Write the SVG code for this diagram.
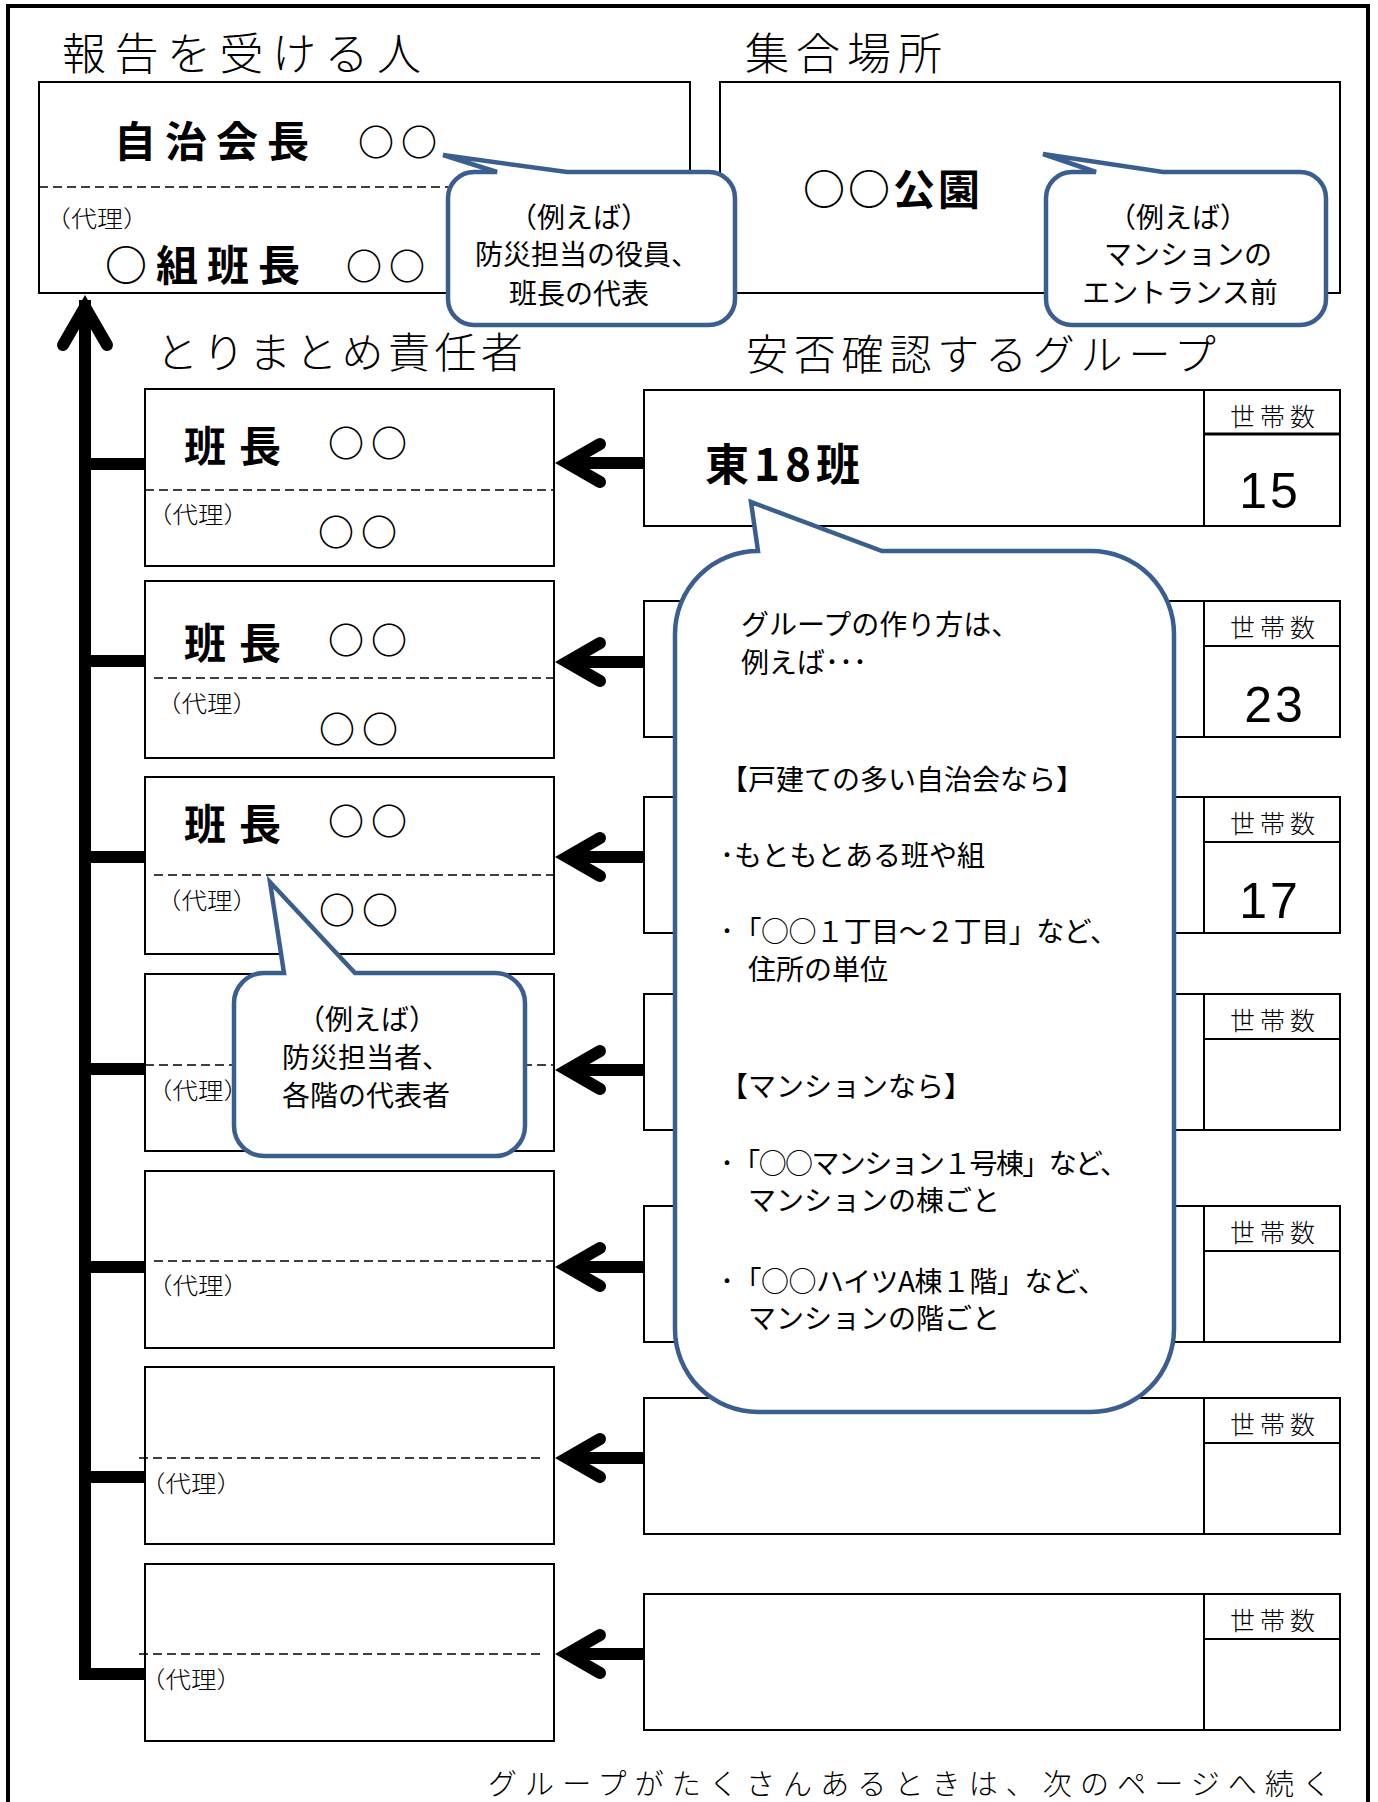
<svg xmlns="http://www.w3.org/2000/svg" xmlns:xlink="http://www.w3.org/1999/xlink" width="1378" height="1802" viewBox="0 0 1378 1802">
<style>
.box{fill:#fff;stroke:#000;stroke-width:2}
.dash{stroke:#000;stroke-width:1.6;stroke-dasharray:9 5;fill:none}
.ttl{font-family:"Noto Sans CJK JP","Noto Sans",sans-serif;font-weight:300;font-size:44px;fill:#000}
.bold{font-family:"Noto Sans CJK JP","Noto Sans",sans-serif;font-weight:700;fill:#000}
.circ{font-family:"Noto Sans CJK JP","Noto Sans",sans-serif;font-weight:700;font-size:36px;letter-spacing:7px;fill:#000}
.small{font-family:"Noto Sans CJK JP","Noto Sans",sans-serif;font-weight:300;font-size:23px;fill:#000}
.hh{font-family:"Noto Sans CJK JP","Noto Sans",sans-serif;font-weight:300;font-size:25px;letter-spacing:5px;fill:#000}
.num{font-family:"Liberation Sans","DejaVu Sans",sans-serif;font-size:50px;fill:#000}
.bub{fill:#fff;stroke:#3A5F8E;stroke-width:4.5;stroke-linejoin:miter}
.bt{font-family:"Noto Sans CJK JP","Noto Sans",sans-serif;font-weight:400;font-size:28px;fill:#000}
.conn{stroke:#000;stroke-width:12;fill:none}
.head{stroke:#000;stroke-width:12;fill:none;stroke-linecap:round;stroke-linejoin:miter}
</style>
<defs>
<g id="larrow">
<line class="conn" x1="566" y1="0" x2="644" y2="0"/>
<polyline class="head" points="600,-19 567,0 600,19"/>
</g>
</defs>

<rect x="8" y="6" width="1360" height="1812" fill="none" stroke="#000" stroke-width="4"/>

<!-- titles -->
<text class="ttl" x="62" y="70" style="letter-spacing:8.5px">報告を受ける人</text>
<text class="ttl" x="745" y="70" style="letter-spacing:7px">集合場所</text>
<text class="ttl" x="156" y="368" style="font-size:42px;letter-spacing:4.4px">とりまとめ責任者</text>
<text class="ttl" x="746" y="370" style="font-size:42px;letter-spacing:5.8px">安否確認するグループ</text>

<!-- report receiver -->
<g id="reporter">
<rect class="box" x="39" y="82" width="651" height="211"/>
<line class="dash" x1="39" y1="187" x2="690" y2="187"/>
<text class="bold" x="114" y="157" style="font-size:42px;letter-spacing:9px">自治会長</text>
<text class="circ" x="358" y="156">○○</text>
<text class="small" x="45" y="227" textLength="104" lengthAdjust="spacingAndGlyphs">（代理）</text>
<text class="bold" x="105" y="281" style="font-size:42px;letter-spacing:9px">○組班長</text>
<text class="circ" x="346" y="280">○○</text>
</g>

<!-- gathering place -->
<g id="place">
<rect class="box" x="720" y="82" width="620" height="211"/>
<text class="bold" x="803" y="205" style="font-size:42px;letter-spacing:3px">○○公園</text>
</g>

<!-- leader boxes -->
<g id="leader1">
<rect class="box" x="145" y="389" width="409" height="177"/>
<line class="dash" x1="145" y1="490" x2="554" y2="490"/>
<text class="bold" x="184" y="462" style="font-size:42px;letter-spacing:13px">班長</text>
<text class="circ" x="328" y="457">○○</text>
<text class="small" x="147" y="523" textLength="102" lengthAdjust="spacingAndGlyphs">（代理）</text>
<text class="circ" x="318" y="546">○○</text>
</g>
<g id="leader2">
<rect class="box" x="145" y="581" width="409" height="177"/>
<line class="dash" x1="154" y1="678" x2="560" y2="678"/>
<text class="bold" x="184" y="659" style="font-size:42px;letter-spacing:13px">班長</text>
<text class="circ" x="328" y="654">○○</text>
<text class="small" x="156" y="712" textLength="102" lengthAdjust="spacingAndGlyphs">（代理）</text>
<text class="circ" x="319" y="743">○○</text>
</g>
<g id="leader3">
<rect class="box" x="145" y="777" width="409" height="177"/>
<line class="dash" x1="154" y1="875" x2="560" y2="875"/>
<text class="bold" x="184" y="840" style="font-size:42px;letter-spacing:13px">班長</text>
<text class="circ" x="328" y="835">○○</text>
<text class="small" x="156" y="909" textLength="102" lengthAdjust="spacingAndGlyphs">（代理）</text>
<text class="circ" x="319" y="924">○○</text>
</g>
<g id="leader4">
<rect class="box" x="145" y="974" width="409" height="177"/>
<line class="dash" x1="145" y1="1065" x2="554" y2="1065"/>
<text class="small" x="147" y="1099" textLength="102" lengthAdjust="spacingAndGlyphs">（代理）</text>
</g>
<g id="leader5">
<rect class="box" x="145" y="1171" width="409" height="177"/>
<line class="dash" x1="154" y1="1261" x2="554" y2="1261"/>
<text class="small" x="147" y="1294" textLength="102" lengthAdjust="spacingAndGlyphs">（代理）</text>
</g>
<g id="leader6">
<rect class="box" x="145" y="1367" width="409" height="177"/>
<line class="dash" x1="139" y1="1458" x2="545" y2="1458"/>
<text class="small" x="140" y="1492" textLength="102" lengthAdjust="spacingAndGlyphs">（代理）</text>
</g>
<g id="leader7">
<rect class="box" x="145" y="1564" width="409" height="177"/>
<line class="dash" x1="139" y1="1654" x2="545" y2="1654"/>
<text class="small" x="140" y="1688" textLength="102" lengthAdjust="spacingAndGlyphs">（代理）</text>
</g>

<!-- group boxes -->
<g id="group1">
<rect class="box" x="644" y="390" width="696" height="136"/>
<line stroke="#000" stroke-width="2" x1="1204" y1="390" x2="1204" y2="526"/>
<line stroke="#000" stroke-width="3" x1="1204" y1="434" x2="1340" y2="434"/>
<text class="hh" x="1230" y="426">世帯数</text>
<text class="bold" x="705" y="481" style="font-size:44px;letter-spacing:5px">東18班</text>
<text class="num" x="1270" y="508" text-anchor="middle" style="letter-spacing:3px">15</text>
</g>
<g id="group2">
<rect class="box" x="644" y="601" width="696" height="136"/>
<line stroke="#000" stroke-width="2" x1="1204" y1="601" x2="1204" y2="737"/>
<line stroke="#000" stroke-width="2" x1="1204" y1="646" x2="1340" y2="646"/>
<text class="hh" x="1230" y="637">世帯数</text>
<text class="num" x="1275" y="722" text-anchor="middle" style="letter-spacing:3px">23</text>
</g>
<g id="group3">
<rect class="box" x="644" y="797" width="696" height="136"/>
<line stroke="#000" stroke-width="2" x1="1204" y1="797" x2="1204" y2="933"/>
<line stroke="#000" stroke-width="2" x1="1204" y1="842" x2="1340" y2="842"/>
<text class="hh" x="1230" y="833">世帯数</text>
<text class="num" x="1270" y="918" text-anchor="middle" style="letter-spacing:3px">17</text>
</g>
<g id="group4">
<rect class="box" x="644" y="994" width="696" height="136"/>
<line stroke="#000" stroke-width="2" x1="1204" y1="994" x2="1204" y2="1130"/>
<line stroke="#000" stroke-width="2" x1="1204" y1="1039" x2="1340" y2="1039"/>
<text class="hh" x="1230" y="1030">世帯数</text>
</g>
<g id="group5">
<rect class="box" x="644" y="1206" width="696" height="136"/>
<line stroke="#000" stroke-width="2" x1="1204" y1="1206" x2="1204" y2="1342"/>
<line stroke="#000" stroke-width="2" x1="1204" y1="1251" x2="1340" y2="1251"/>
<text class="hh" x="1230" y="1242">世帯数</text>
</g>
<g id="group6">
<rect class="box" x="644" y="1398" width="696" height="136"/>
<line stroke="#000" stroke-width="2" x1="1204" y1="1398" x2="1204" y2="1534"/>
<line stroke="#000" stroke-width="2" x1="1204" y1="1443" x2="1340" y2="1443"/>
<text class="hh" x="1230" y="1434">世帯数</text>
</g>
<g id="group7">
<rect class="box" x="644" y="1594" width="696" height="136"/>
<line stroke="#000" stroke-width="2" x1="1204" y1="1594" x2="1204" y2="1730"/>
<line stroke="#000" stroke-width="2" x1="1204" y1="1639" x2="1340" y2="1639"/>
<text class="hh" x="1230" y="1630">世帯数</text>
</g>

<!-- connectors -->
<g id="connectors">
<rect x="79" y="300" width="12" height="1380" fill="#000"/>
<polyline class="head" points="63,345 85,307 107,345"/>
<line class="conn" x1="85" y1="464" x2="145" y2="464"/>
<line class="conn" x1="85" y1="661" x2="145" y2="661"/>
<line class="conn" x1="85" y1="857" x2="145" y2="857"/>
<line class="conn" x1="85" y1="1069" x2="145" y2="1069"/>
<line class="conn" x1="85" y1="1267" x2="145" y2="1267"/>
<line class="conn" x1="85" y1="1477" x2="145" y2="1477"/>
<line class="conn" x1="85" y1="1674" x2="145" y2="1674"/>
<use xlink:href="#larrow" y="463"/>
<use xlink:href="#larrow" y="662"/>
<use xlink:href="#larrow" y="857"/>
<use xlink:href="#larrow" y="1070"/>
<use xlink:href="#larrow" y="1267"/>
<use xlink:href="#larrow" y="1458"/>
<use xlink:href="#larrow" y="1654"/>
</g>

<!-- callouts -->
<g id="callout1">
<path class="bub" d="M474,172 L497,172 L443,155 L567,172 L709,172 A26,26 0 0 1 735,198 L735,299 A26,26 0 0 1 709,325 L474,325 A26,26 0 0 1 448,299 L448,198 A26,26 0 0 1 474,172 Z"/>
<text class="bt" x="579" y="228" text-anchor="middle">（例えば）</text>
<text class="bt" x="587" y="265" text-anchor="middle">防災担当の役員、</text>
<text class="bt" x="579" y="304" text-anchor="middle">班長の代表</text>
</g>
<g id="callout2">
<path class="bub" d="M1072,172 L1096,172 L1043,154 L1163,172 L1300,172 A26,26 0 0 1 1326,198 L1326,299 A26,26 0 0 1 1300,325 L1072,325 A26,26 0 0 1 1046,299 L1046,198 A26,26 0 0 1 1072,172 Z"/>
<text class="bt" x="1178" y="228" text-anchor="middle">（例えば）</text>
<text class="bt" x="1188" y="265" text-anchor="middle">マンションの</text>
<text class="bt" x="1180" y="303" text-anchor="middle">エントランス前</text>
</g>
<g id="callout3">
<path class="bub" d="M264,973 L284,973 L270,882 L355,973 L495,973 A30,30 0 0 1 525,1003 L525,1126 A30,30 0 0 1 495,1156 L264,1156 A30,30 0 0 1 234,1126 L234,1003 A30,30 0 0 1 264,973 Z"/>
<text class="bt" x="367" y="1030" text-anchor="middle">（例えば）</text>
<text class="bt" x="366" y="1068" text-anchor="middle">防災担当者、</text>
<text class="bt" x="366" y="1106" text-anchor="middle">各階の代表者</text>
</g>
<g id="callout4">
<path class="bub" d="M758,551 L751,502 L882,551 L1091,551 A83,83 0 0 1 1174,634 L1174,1329 A83,83 0 0 1 1091,1412 L758,1412 A83,83 0 0 1 675,1329 L675,634 A83,83 0 0 1 758,551 Z"/>
<text class="bt" x="741" y="635">グループの作り方は、</text>
<text class="bt" x="741" y="673">例えば･･･</text>
<text class="bt" x="720" y="790">【戸建ての多い自治会なら】</text>
<text class="bt" x="720" y="866">･もともとある班や組</text>
<text class="bt" x="720" y="942" textLength="398" lengthAdjust="spacing">･「○○１丁目～２丁目」など、</text>
<text class="bt" x="748" y="980">住所の単位</text>
<text class="bt" x="720" y="1097">【マンションなら】</text>
<text class="bt" x="720" y="1174" textLength="408" lengthAdjust="spacing">･「○○マンション１号棟」など、</text>
<text class="bt" x="748" y="1211">マンションの棟ごと</text>
<text class="bt" x="720" y="1292" textLength="386" lengthAdjust="spacing">･「○○ハイツA棟１階」など、</text>
<text class="bt" x="748" y="1329">マンションの階ごと</text>
</g>

<text class="ttl" x="488" y="1795" style="font-size:29px" textLength="843" lengthAdjust="spacing">グループがたくさんあるときは、次のページへ続く</text>
</svg>
